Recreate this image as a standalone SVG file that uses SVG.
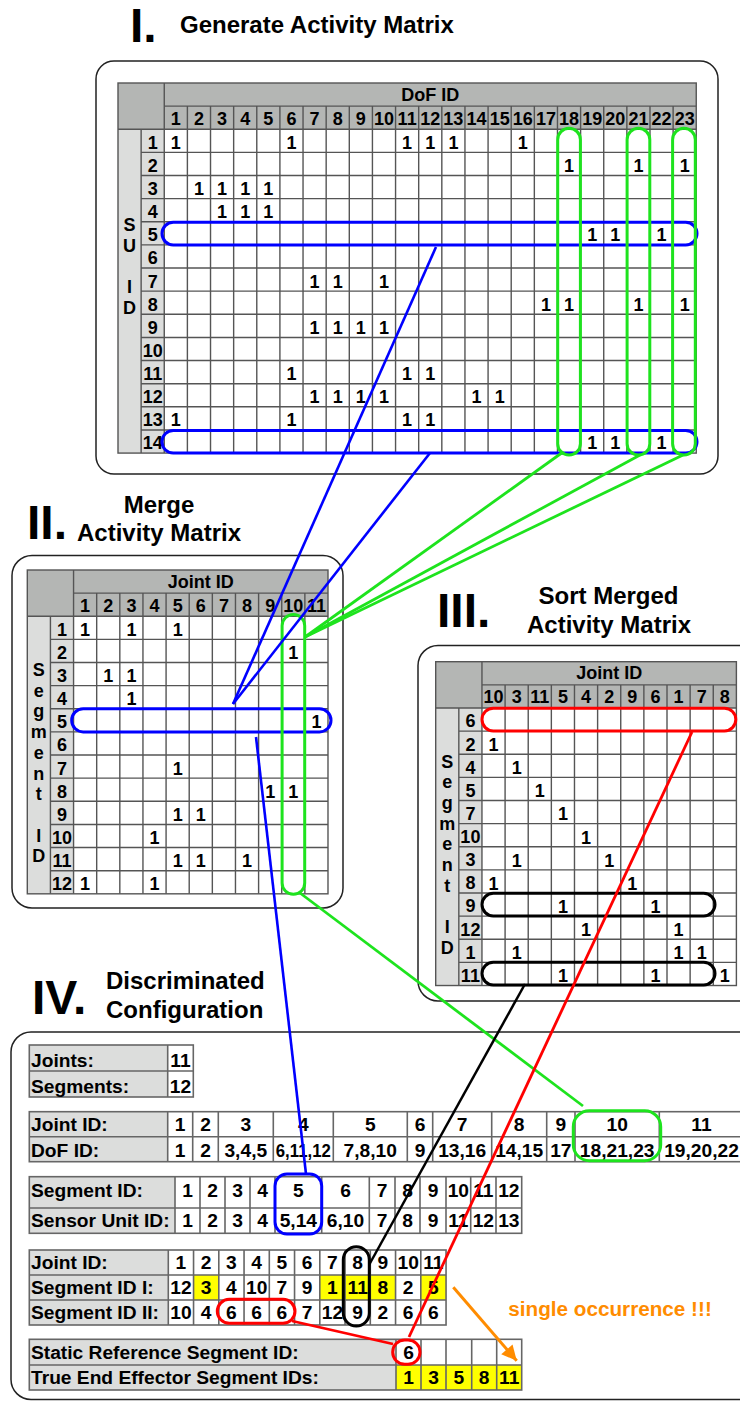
<svg xmlns="http://www.w3.org/2000/svg" xmlns:xlink="http://www.w3.org/1999/xlink" width="740" height="1402" viewBox="0 0 740 1402">
<style>
text{font-family:"Liberation Sans",Arial,Helvetica,sans-serif;font-weight:bold;fill:#000}
.m{font-size:18px;text-anchor:middle}
.b{font-size:19.2px}
.bc{font-size:19.2px;text-anchor:middle}
.ttl{font-size:24px}
.ttlc{font-size:24px;text-anchor:middle}
.rn{font-size:48px}
.hd{fill:#b4b6b4}
.lb{fill:#dcdddc}
.wh{fill:#fff}
.ye{fill:#ffff00}
.grid{fill:none;stroke:#555;stroke-width:1.4}
.tb{fill:none;stroke:#666;stroke-width:1.6}
.pan{fill:none;stroke:#222;stroke-width:1.5}
.hb{fill:none;stroke:#0000ff;stroke-width:3}
.hg{fill:none;stroke:#1ee31e;stroke-width:3}
.hr{fill:none;stroke:#ff0000;stroke-width:3}
.hk{fill:none;stroke:#000;stroke-width:3}
.cb{stroke:#0000ff;stroke-width:2.6}
.cg{stroke:#1ee31e;stroke-width:2.8}
.cr{stroke:#ff0000;stroke-width:2.8}
.ck{stroke:#000;stroke-width:2.5}
.co{stroke:#ff8c00;stroke-width:3}
.or{fill:#ff8c00;font-size:20.7px}
</style>
<defs>
<path id="grid11" class="grid" d="M46.26,23.13H300.69M0,46.26H300.69M23.13,69.39H300.69M23.13,92.52H300.69M23.13,115.65H300.69M23.13,138.78H300.69M23.13,161.91H300.69M23.13,185.04H300.69M23.13,208.17H300.69M23.13,231.3H300.69M23.13,254.43H300.69M23.13,277.56H300.69M23.13,300.69H300.69M23.13,46.26V323.82M46.26,0V323.82M69.39,23.13V323.82M92.52,23.13V323.82M115.65,23.13V323.82M138.78,23.13V323.82M161.91,23.13V323.82M185.04,23.13V323.82M208.17,23.13V323.82M231.3,23.13V323.82M254.43,23.13V323.82M277.56,23.13V323.82"/>
<marker id="arrO" viewBox="0 0 10 10" refX="10" refY="5" markerWidth="6" markerHeight="5" orient="auto" markerUnits="strokeWidth"><path d="M0,0L10,5L0,10z" fill="#ff8c00"/></marker>
</defs>

<g id="titles">
<text class="rn" x="130" y="42">I.</text>
<text class="ttl" x="180" y="33">Generate Activity Matrix</text>
<text class="rn" x="27" y="539">II.</text>
<text class="ttlc" x="159" y="513">Merge</text>
<text class="ttlc" x="159" y="541">Activity Matrix</text>
<text class="rn" x="437" y="627">III.</text>
<text class="ttlc" x="608.5" y="604">Sort Merged</text>
<text class="ttlc" x="609" y="633">Activity Matrix</text>
<text class="rn" x="32" y="1014">IV.</text>
<text class="ttl" x="106" y="989">Discriminated</text>
<text class="ttl" x="106" y="1018">Configuration</text>
</g>

<g id="panel-I">
<rect class="pan" x="96" y="61" width="622" height="413" rx="18"/>
<g transform="translate(118,83)">
<rect class="hd" width="578.25" height="46.26"/>
<rect class="lb" y="46.26" width="46.26" height="323.82"/>
<rect class="wh" x="46.26" y="46.26" width="531.99" height="323.82"/>
<path class="grid" d="M46.26,23.13H578.25M0,46.26H578.25M23.13,69.39H578.25M23.13,92.52H578.25M23.13,115.65H578.25M23.13,138.78H578.25M23.13,161.91H578.25M23.13,185.04H578.25M23.13,208.17H578.25M23.13,231.3H578.25M23.13,254.43H578.25M23.13,277.56H578.25M23.13,300.69H578.25M23.13,323.82H578.25M23.13,346.95H578.25M23.13,46.26V370.08M46.26,0V370.08M69.39,23.13V370.08M92.52,23.13V370.08M115.65,23.13V370.08M138.78,23.13V370.08M161.91,23.13V370.08M185.04,23.13V370.08M208.17,23.13V370.08M231.3,23.13V370.08M254.43,23.13V370.08M277.56,23.13V370.08M300.69,23.13V370.08M323.82,23.13V370.08M346.95,23.13V370.08M370.08,23.13V370.08M393.21,23.13V370.08M416.34,23.13V370.08M439.47,23.13V370.08M462.6,23.13V370.08M485.73,23.13V370.08M508.86,23.13V370.08M531.99,23.13V370.08M555.12,23.13V370.08"/>
<rect class="grid" width="578.25" height="370.08"/>
<text class="m" x="312.25" y="17.8">DoF ID</text>
<text class="m" x="57.83" y="41.8">1</text><text class="m" x="80.96" y="41.8">2</text><text class="m" x="104.09" y="41.8">3</text><text class="m" x="127.22" y="41.8">4</text><text class="m" x="150.35" y="41.8">5</text><text class="m" x="173.48" y="41.8">6</text><text class="m" x="196.61" y="41.8">7</text><text class="m" x="219.74" y="41.8">8</text><text class="m" x="242.87" y="41.8">9</text><text class="m" x="266" y="41.8">10</text><text class="m" x="289.13" y="41.8">11</text><text class="m" x="312.26" y="41.8">12</text><text class="m" x="335.39" y="41.8">13</text><text class="m" x="358.52" y="41.8">14</text><text class="m" x="381.65" y="41.8">15</text><text class="m" x="404.78" y="41.8">16</text><text class="m" x="427.91" y="41.8">17</text><text class="m" x="451.04" y="41.8">18</text><text class="m" x="474.17" y="41.8">19</text><text class="m" x="497.3" y="41.8">20</text><text class="m" x="520.43" y="41.8">21</text><text class="m" x="543.56" y="41.8">22</text><text class="m" x="566.69" y="41.8">23</text>
<text class="m" x="34.7" y="65.76">1</text><text class="m" x="34.7" y="88.89">2</text><text class="m" x="34.7" y="112.02">3</text><text class="m" x="34.7" y="135.15">4</text><text class="m" x="34.7" y="158.28">5</text><text class="m" x="34.7" y="181.41">6</text><text class="m" x="34.7" y="204.54">7</text><text class="m" x="34.7" y="227.67">8</text><text class="m" x="34.7" y="250.8">9</text><text class="m" x="34.7" y="273.93">10</text><text class="m" x="34.7" y="297.06">11</text><text class="m" x="34.7" y="320.19">12</text><text class="m" x="34.7" y="343.32">13</text><text class="m" x="34.7" y="366.45">14</text>
<text class="m" x="11.57" y="148">S</text><text class="m" x="11.57" y="168.7">U</text><text class="m" x="11.57" y="210.1">I</text><text class="m" x="11.57" y="230.8">D</text>
<text class="m" x="57.83" y="65.76">1</text><text class="m" x="173.48" y="65.76">1</text><text class="m" x="289.13" y="65.76">1</text><text class="m" x="312.26" y="65.76">1</text><text class="m" x="335.39" y="65.76">1</text><text class="m" x="404.78" y="65.76">1</text>
<text class="m" x="451.04" y="88.89">1</text><text class="m" x="520.43" y="88.89">1</text><text class="m" x="566.69" y="88.89">1</text>
<text class="m" x="80.96" y="112.02">1</text><text class="m" x="104.09" y="112.02">1</text><text class="m" x="127.22" y="112.02">1</text><text class="m" x="150.35" y="112.02">1</text>
<text class="m" x="104.09" y="135.15">1</text><text class="m" x="127.22" y="135.15">1</text><text class="m" x="150.35" y="135.15">1</text>
<text class="m" x="474.17" y="158.28">1</text><text class="m" x="497.3" y="158.28">1</text><text class="m" x="543.56" y="158.28">1</text>
<text class="m" x="196.61" y="204.54">1</text><text class="m" x="219.74" y="204.54">1</text><text class="m" x="266" y="204.54">1</text>
<text class="m" x="427.91" y="227.67">1</text><text class="m" x="451.04" y="227.67">1</text><text class="m" x="520.43" y="227.67">1</text><text class="m" x="566.69" y="227.67">1</text>
<text class="m" x="196.61" y="250.8">1</text><text class="m" x="219.74" y="250.8">1</text><text class="m" x="242.87" y="250.8">1</text><text class="m" x="266" y="250.8">1</text>
<text class="m" x="173.48" y="297.06">1</text><text class="m" x="289.13" y="297.06">1</text><text class="m" x="312.26" y="297.06">1</text>
<text class="m" x="196.61" y="320.19">1</text><text class="m" x="219.74" y="320.19">1</text><text class="m" x="242.87" y="320.19">1</text><text class="m" x="266" y="320.19">1</text><text class="m" x="358.52" y="320.19">1</text><text class="m" x="381.65" y="320.19">1</text>
<text class="m" x="57.83" y="343.32">1</text><text class="m" x="173.48" y="343.32">1</text><text class="m" x="289.13" y="343.32">1</text><text class="m" x="312.26" y="343.32">1</text>
<text class="m" x="474.17" y="366.45">1</text><text class="m" x="497.3" y="366.45">1</text><text class="m" x="543.56" y="366.45">1</text>
<rect class="hb" x="44" y="139.3" width="535" height="22.6" rx="11.3"/>
<rect class="hb" x="44" y="347.5" width="535" height="22.6" rx="11.3"/>
<rect class="hg" x="439.7" y="45.3" width="22.7" height="326.7" rx="11.35"/>
<rect class="hg" x="509.1" y="45.3" width="22.7" height="326.7" rx="11.35"/>
<rect class="hg" x="554.6" y="45.3" width="22.7" height="326.7" rx="11.35"/>
</g>
</g>

<g id="panel-II">
<rect class="pan" x="12" y="555.5" width="331" height="352.5" rx="20"/>
<g transform="translate(27.3,570)">
<rect class="hd" width="300.69" height="46.26"/>
<rect class="lb" y="46.26" width="46.26" height="277.56"/>
<rect class="wh" x="46.26" y="46.26" width="254.43" height="277.56"/>
<use xlink:href="#grid11"/>
<rect class="grid" width="300.69" height="323.82"/>
<text class="m" x="173.48" y="17.8">Joint ID</text>
<text class="m" x="57.83" y="41.8">1</text><text class="m" x="80.96" y="41.8">2</text><text class="m" x="104.09" y="41.8">3</text><text class="m" x="127.22" y="41.8">4</text><text class="m" x="150.35" y="41.8">5</text><text class="m" x="173.48" y="41.8">6</text><text class="m" x="196.61" y="41.8">7</text><text class="m" x="219.74" y="41.8">8</text><text class="m" x="242.87" y="41.8">9</text><text class="m" x="266" y="41.8">10</text><text class="m" x="289.13" y="41.8">11</text>
<text class="m" x="34.7" y="65.76">1</text><text class="m" x="34.7" y="88.89">2</text><text class="m" x="34.7" y="112.02">3</text><text class="m" x="34.7" y="135.15">4</text><text class="m" x="34.7" y="158.28">5</text><text class="m" x="34.7" y="181.41">6</text><text class="m" x="34.7" y="204.54">7</text><text class="m" x="34.7" y="227.67">8</text><text class="m" x="34.7" y="250.8">9</text><text class="m" x="34.7" y="273.93">10</text><text class="m" x="34.7" y="297.06">11</text><text class="m" x="34.7" y="320.19">12</text>
<text class="m" x="11.57" y="106">S</text><text class="m" x="11.57" y="126.7">e</text><text class="m" x="11.57" y="147.4">g</text><text class="m" x="11.57" y="168.1">m</text><text class="m" x="11.57" y="188.8">e</text><text class="m" x="11.57" y="209.5">n</text><text class="m" x="11.57" y="230.2">t</text><text class="m" x="11.57" y="271.6">I</text><text class="m" x="11.57" y="292.3">D</text>
<text class="m" x="57.83" y="65.76">1</text><text class="m" x="104.09" y="65.76">1</text><text class="m" x="150.35" y="65.76">1</text>
<text class="m" x="266" y="88.89">1</text>
<text class="m" x="80.96" y="112.02">1</text><text class="m" x="104.09" y="112.02">1</text>
<text class="m" x="104.09" y="135.15">1</text>
<text class="m" x="289.13" y="158.28">1</text>
<text class="m" x="150.35" y="204.54">1</text>
<text class="m" x="242.87" y="227.67">1</text><text class="m" x="266" y="227.67">1</text>
<text class="m" x="150.35" y="250.8">1</text><text class="m" x="173.48" y="250.8">1</text>
<text class="m" x="127.22" y="273.93">1</text>
<text class="m" x="150.35" y="297.06">1</text><text class="m" x="173.48" y="297.06">1</text><text class="m" x="219.74" y="297.06">1</text>
<text class="m" x="57.83" y="320.19">1</text><text class="m" x="127.22" y="320.19">1</text>
<rect class="hb" x="44.4" y="138.8" width="259.3" height="23.1" rx="11.5"/>
<rect class="hg" x="254.8" y="44.5" width="22.6" height="279.8" rx="11.3"/>
</g>
</g>

<g id="panel-III">
<rect class="pan" x="418" y="645.5" width="340" height="355.5" rx="20"/>
<g transform="translate(435.7,661.7)">
<rect class="hd" width="300.69" height="46.26"/>
<rect class="lb" y="46.26" width="46.26" height="277.56"/>
<rect class="wh" x="46.26" y="46.26" width="254.43" height="277.56"/>
<use xlink:href="#grid11"/>
<rect class="grid" width="300.69" height="323.82"/>
<text class="m" x="173.48" y="17.8">Joint ID</text>
<text class="m" x="57.83" y="41.8">10</text><text class="m" x="80.96" y="41.8">3</text><text class="m" x="104.09" y="41.8">11</text><text class="m" x="127.22" y="41.8">5</text><text class="m" x="150.35" y="41.8">4</text><text class="m" x="173.48" y="41.8">2</text><text class="m" x="196.61" y="41.8">9</text><text class="m" x="219.74" y="41.8">6</text><text class="m" x="242.87" y="41.8">1</text><text class="m" x="266" y="41.8">7</text><text class="m" x="289.13" y="41.8">8</text>
<text class="m" x="34.7" y="65.76">6</text><text class="m" x="34.7" y="88.89">2</text><text class="m" x="34.7" y="112.02">4</text><text class="m" x="34.7" y="135.15">5</text><text class="m" x="34.7" y="158.28">7</text><text class="m" x="34.7" y="181.41">10</text><text class="m" x="34.7" y="204.54">3</text><text class="m" x="34.7" y="227.67">8</text><text class="m" x="34.7" y="250.8">9</text><text class="m" x="34.7" y="273.93">12</text><text class="m" x="34.7" y="297.06">1</text><text class="m" x="34.7" y="320.19">11</text>
<text class="m" x="11.57" y="106">S</text><text class="m" x="11.57" y="126.7">e</text><text class="m" x="11.57" y="147.4">g</text><text class="m" x="11.57" y="168.1">m</text><text class="m" x="11.57" y="188.8">e</text><text class="m" x="11.57" y="209.5">n</text><text class="m" x="11.57" y="230.2">t</text><text class="m" x="11.57" y="271.6">I</text><text class="m" x="11.57" y="292.3">D</text>
<text class="m" x="57.83" y="89.5">1</text>
<text class="m" x="80.96" y="112.6">1</text>
<text class="m" x="104.09" y="135.7">1</text>
<text class="m" x="127.22" y="158.8">1</text>
<text class="m" x="150.35" y="182">1</text>
<text class="m" x="80.96" y="205.1">1</text><text class="m" x="173.48" y="205.1">1</text>
<text class="m" x="57.83" y="228.2">1</text><text class="m" x="196.61" y="228.2">1</text>
<text class="m" x="127.22" y="251.4">1</text><text class="m" x="219.74" y="251.4">1</text>
<text class="m" x="150.35" y="274.5">1</text><text class="m" x="242.87" y="274.5">1</text>
<text class="m" x="80.96" y="297.6">1</text><text class="m" x="242.87" y="297.6">1</text><text class="m" x="266" y="297.6">1</text>
<text class="m" x="127.22" y="320.8">1</text><text class="m" x="219.74" y="320.8">1</text><text class="m" x="289.13" y="320.8">1</text>
<rect class="hr" x="46.3" y="46.5" width="253.8" height="22.7" rx="11.35"/>
<rect class="hk" x="46.3" y="231.6" width="233" height="22.6" rx="11.3"/>
<rect class="hk" x="46.3" y="300.6" width="233" height="22.6" rx="11.3"/>
</g>
</g>

<g id="panel-IV">
<rect class="pan" x="11" y="1032" width="760" height="367.5" rx="20"/>
<g id="counts">
<rect class="lb" x="29.3" y="1045" width="138.4" height="52"/>
<rect class="wh" x="167.7" y="1045" width="25.6" height="52"/>
<path class="tb" d="M29.3,1071H193.3M167.7,1045V1097"/>
<rect class="tb" x="29.3" y="1045" width="164" height="52"/>
<text class="b" x="31" y="1066.5">Joints:</text>
<text class="b" x="31" y="1092.5">Segments:</text>
<text class="bc" x="180.5" y="1066.5">11</text>
<text class="bc" x="180.5" y="1092.5">12</text>
</g>
<g id="joint-dof">
<rect class="lb" x="29.3" y="1111.7" width="138.4" height="50"/>
<rect class="wh" x="167.7" y="1111.7" width="580" height="50"/>
<path class="tb" d="M29.3,1136.7H747.7M167.7,1111.7V1161.7M192.7,1111.7V1161.7M218.3,1111.7V1161.7M273.3,1111.7V1161.7M333.3,1111.7V1161.7M407.3,1111.7V1161.7M432.7,1111.7V1161.7M491.7,1111.7V1161.7M546.7,1111.7V1161.7M575,1111.7V1161.7M659.3,1111.7V1161.7"/>
<rect class="tb" x="29.3" y="1111.7" width="718.4" height="50"/>
<text class="b" x="31" y="1131.3">Joint ID:</text>
<text class="b" x="31" y="1156.5">DoF ID:</text>
<text class="bc" x="180.2" y="1131.3">1</text><text class="bc" x="205.5" y="1131.3">2</text><text class="bc" x="245.8" y="1131.3">3</text><text class="bc" x="303.3" y="1131.3">4</text><text class="bc" x="370.3" y="1131.3">5</text><text class="bc" x="420" y="1131.3">6</text><text class="bc" x="462.2" y="1131.3">7</text><text class="bc" x="519.2" y="1131.3">8</text><text class="bc" x="560.85" y="1131.3">9</text><text class="bc" x="617.15" y="1131.3">10</text><text class="bc" x="701.5" y="1131.3">11</text>
<text class="bc" x="180.2" y="1156.5">1</text><text class="bc" x="205.5" y="1156.5">2</text><text class="bc" x="245.8" y="1156.5">3,4,5</text><text class="bc" x="303.3" y="1156.5" textLength="55" lengthAdjust="spacingAndGlyphs">6,11,12</text><text class="bc" x="370.3" y="1156.5">7,8,10</text><text class="bc" x="420" y="1156.5">9</text><text class="bc" x="462.2" y="1156.5">13,16</text><text class="bc" x="519.2" y="1156.5">14,15</text><text class="bc" x="560.85" y="1156.5">17</text><text class="bc" x="617.15" y="1156.5">18,21,23</text><text class="bc" x="701.5" y="1156.5">19,20,22</text>
<rect class="hg" x="573.3" y="1110.7" width="87.4" height="50" rx="16"/>
</g>
<g id="segment-sensor">
<rect class="lb" x="29.3" y="1176.7" width="145.7" height="56.6"/>
<rect class="wh" x="175" y="1176.7" width="346.7" height="56.6"/>
<path class="tb" d="M29.3,1208H521.7M175,1176.7V1233.3M200,1176.7V1233.3M225,1176.7V1233.3M250,1176.7V1233.3M275,1176.7V1233.3M321.7,1176.7V1233.3M369.3,1176.7V1233.3M395,1176.7V1233.3M420,1176.7V1233.3M446,1176.7V1233.3M470.7,1176.7V1233.3M496,1176.7V1233.3"/>
<rect class="tb" x="29.3" y="1176.7" width="492.4" height="56.6"/>
<text class="b" x="31" y="1196.5">Segment ID:</text>
<text class="b" x="31" y="1226.5">Sensor Unit ID:</text>
<text class="bc" x="187.5" y="1196.5">1</text><text class="bc" x="212.5" y="1196.5">2</text><text class="bc" x="237.5" y="1196.5">3</text><text class="bc" x="262.5" y="1196.5">4</text><text class="bc" x="298.35" y="1196.5">5</text><text class="bc" x="345.5" y="1196.5">6</text><text class="bc" x="382.15" y="1196.5">7</text><text class="bc" x="407.5" y="1196.5">8</text><text class="bc" x="433" y="1196.5">9</text><text class="bc" x="458.35" y="1196.5">10</text><text class="bc" x="483.35" y="1196.5">11</text><text class="bc" x="508.85" y="1196.5">12</text>
<text class="bc" x="187.5" y="1226.5">1</text><text class="bc" x="212.5" y="1226.5">2</text><text class="bc" x="237.5" y="1226.5">3</text><text class="bc" x="262.5" y="1226.5">4</text><text class="bc" x="298.35" y="1226.5">5,14</text><text class="bc" x="345.5" y="1226.5">6,10</text><text class="bc" x="382.15" y="1226.5">7</text><text class="bc" x="407.5" y="1226.5">8</text><text class="bc" x="433" y="1226.5">9</text><text class="bc" x="458.35" y="1226.5">11</text><text class="bc" x="483.35" y="1226.5">12</text><text class="bc" x="508.85" y="1226.5">13</text>
<rect class="hb" x="275" y="1174" width="46.7" height="60" rx="12"/>
</g>
<g id="joint-segments">
<rect class="lb" x="29.3" y="1250" width="139" height="75"/>
<rect class="wh" x="168.3" y="1250" width="277.75" height="75"/>
<rect class="ye" x="193.55" y="1275" width="25.25" height="25"/>
<rect class="ye" x="319.8" y="1275" width="75.75" height="25"/>
<rect class="ye" x="420.8" y="1275" width="25.25" height="25"/>
<path class="tb" d="M29.3,1275H446.05M29.3,1300H446.05M168.3,1250V1325M193.55,1250V1325M218.8,1250V1325M244.05,1250V1325M269.3,1250V1325M294.55,1250V1325M319.8,1250V1325M345.05,1250V1325M370.3,1250V1325M395.55,1250V1325M420.8,1250V1325"/>
<rect class="tb" x="29.3" y="1250" width="416.75" height="75"/>
<text class="b" x="31" y="1269">Joint ID:</text>
<text class="b" x="31" y="1294">Segment ID I:</text>
<text class="b" x="31" y="1319">Segment ID II:</text>
<text class="bc" x="180.9" y="1269">1</text><text class="bc" x="206.2" y="1269">2</text><text class="bc" x="231.4" y="1269">3</text><text class="bc" x="256.7" y="1269">4</text><text class="bc" x="281.9" y="1269">5</text><text class="bc" x="307.2" y="1269">6</text><text class="bc" x="332.4" y="1269">7</text><text class="bc" x="357.7" y="1269">8</text><text class="bc" x="382.9" y="1269">9</text><text class="bc" x="408.2" y="1269">10</text><text class="bc" x="433.4" y="1269">11</text>
<text class="bc" x="180.9" y="1294">12</text><text class="bc" x="206.2" y="1294">3</text><text class="bc" x="231.4" y="1294">4</text><text class="bc" x="256.7" y="1294">10</text><text class="bc" x="281.9" y="1294">7</text><text class="bc" x="307.2" y="1294">9</text><text class="bc" x="332.4" y="1294">1</text><text class="bc" x="357.7" y="1294">11</text><text class="bc" x="382.9" y="1294">8</text><text class="bc" x="408.2" y="1294">2</text><text class="bc" x="433.4" y="1294">5</text>
<text class="bc" x="180.9" y="1319">10</text><text class="bc" x="206.2" y="1319">4</text><text class="bc" x="231.4" y="1319">6</text><text class="bc" x="256.7" y="1319">6</text><text class="bc" x="281.9" y="1319">6</text><text class="bc" x="307.2" y="1319">7</text><text class="bc" x="332.4" y="1319">12</text><text class="bc" x="357.7" y="1319">9</text><text class="bc" x="382.9" y="1319">2</text><text class="bc" x="408.2" y="1319">6</text><text class="bc" x="433.4" y="1319">6</text>
<rect class="hk" x="343.3" y="1246.7" width="26" height="79.3" rx="13"/>
<rect class="hr" x="217.3" y="1299.3" width="77.7" height="24" rx="12"/>
</g>
<g id="reference-effectors">
<rect class="lb" x="29.3" y="1339.3" width="366.7" height="50.7"/>
<rect class="wh" x="396" y="1339.3" width="125.7" height="25.7"/>
<rect class="ye" x="396" y="1365" width="125.7" height="25"/>
<path class="tb" d="M29.3,1365H521.7M396,1339.3V1390M421,1339.3V1390M446,1339.3V1390M471.7,1339.3V1390M496.7,1339.3V1390"/>
<rect class="tb" x="29.3" y="1339.3" width="492.4" height="50.7"/>
<text class="b" x="31" y="1359.3">Static Reference Segment ID:</text>
<text class="b" x="31" y="1384">True End Effector Segment IDs:</text>
<text class="bc" x="408.5" y="1359.3">6</text>
<text class="bc" x="408.5" y="1384">1</text><text class="bc" x="433.5" y="1384">3</text><text class="bc" x="458.85" y="1384">5</text><text class="bc" x="484.2" y="1384">8</text><text class="bc" x="509.2" y="1384">11</text>
<rect class="hr" x="392.7" y="1340" width="27.3" height="24.3" rx="12"/>
</g>
<text class="or" x="508.3" y="1316">single occurrence !!!</text>
</g>

<g id="connectors" fill="none">
<line class="cb" x1="436" y1="247" x2="233" y2="704"/>
<line class="cb" x1="430" y1="453" x2="233" y2="704"/>
<line class="cb" x1="256" y1="737" x2="306" y2="1174"/>
<line class="cg" x1="563" y1="452" x2="305" y2="637"/>
<line class="cg" x1="640" y1="455" x2="305" y2="637"/>
<line class="cg" x1="683" y1="455" x2="305" y2="637"/>
<line class="cg" x1="300" y1="893" x2="583" y2="1106"/>
<line class="cr" x1="692" y1="732" x2="409" y2="1337"/>
<line class="cr" x1="292" y1="1321" x2="393" y2="1344"/>
<line class="ck" x1="525" y1="984" x2="369" y2="1265"/>
<line class="co" x1="453.3" y1="1287.3" x2="516.7" y2="1360.7" marker-end="url(#arrO)"/>
</g>
</svg>
